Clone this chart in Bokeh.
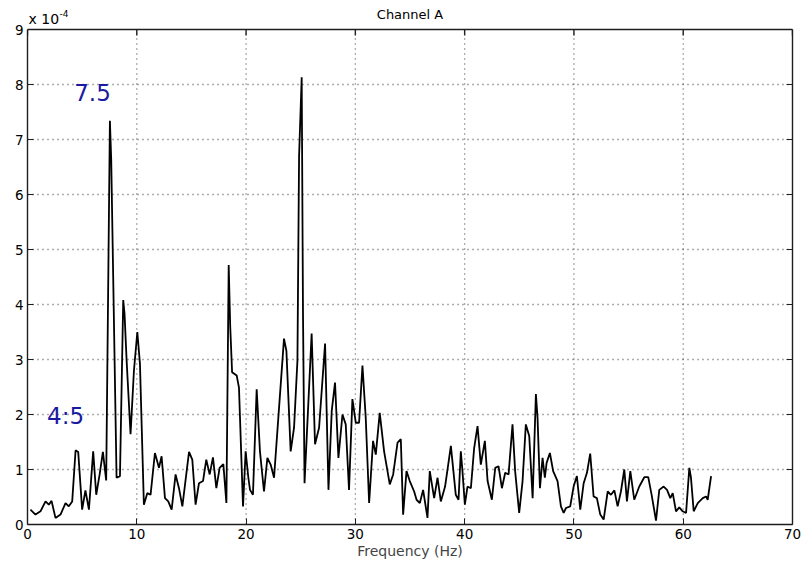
from bokeh.plotting import figure
from bokeh.models import Range1d, LinearAxis, Label, FixedTicker, Span
from bokeh.embed import file_html
from bokeh.resources import INLINE

# Frequency (Hz) and spectral amplitude (x 1e-4)
freq = [0.27, 0.73, 1.19, 1.65, 1.95, 2.2, 2.56, 3.02, 3.48, 3.78, 4.09, 4.4, 4.64, 5.0, 5.3,
        5.62, 6.01, 6.29, 6.6, 6.9, 7.2, 7.54, 7.66, 8.15, 8.46, 8.76, 8.88, 9.07, 9.43, 9.74,
        10.05, 10.29, 10.65, 10.96, 11.26, 11.66, 12.03, 12.27, 12.58, 12.88, 13.19, 13.55,
        13.86, 14.17, 14.78, 15.08, 15.38, 15.69, 16.06, 16.36, 16.67, 16.97, 17.28, 17.58,
        17.92, 18.2, 18.41, 18.55, 18.72, 19.14, 19.35, 19.72, 19.96, 20.21, 20.36, 20.63,
        20.97, 21.27, 21.64, 21.95, 22.25, 22.56, 23.47, 23.69, 24.08, 24.39, 24.7, 24.85,
        25.09, 25.21, 25.35, 26.0, 26.31, 26.68, 27.23, 27.54, 27.84, 28.14, 28.45, 28.82,
        29.12, 29.42, 29.73, 30.04, 30.34, 30.65, 30.95, 31.26, 31.62, 31.87, 32.23, 32.63,
        33.15, 33.46, 33.86, 34.16, 34.37, 34.68, 34.98, 35.38, 35.6, 35.9, 36.2, 36.6, 36.81,
        37.21, 37.52, 37.82, 38.21, 38.74, 39.19, 39.44, 39.65, 39.8, 40.02, 40.26, 40.57,
        40.87, 41.18, 41.48, 41.85, 42.1, 42.49, 42.8, 43.1, 43.41, 43.71, 44.02, 44.38,
        44.62, 44.99, 45.3, 45.6, 45.91, 46.22, 46.52, 46.67, 46.89, 47.13, 47.34, 47.5,
        47.8, 48.1, 48.5, 48.81, 49.06, 49.27, 49.66, 49.97, 50.27, 50.58, 50.89, 51.19,
        51.49, 51.8, 52.1, 52.41, 52.72, 53.09, 53.39, 53.7, 54.0, 54.3, 54.61, 54.85, 55.16,
        55.52, 55.98, 56.44, 56.8, 57.11, 57.51, 57.81, 58.21, 58.52, 58.82, 59.04, 59.34,
        59.64, 59.95, 60.26, 60.56, 60.71, 60.96, 61.33, 61.79, 62.09, 62.24, 62.55]
amp_e4 = [0.27, 0.18, 0.24, 0.42, 0.36, 0.43, 0.12, 0.18, 0.39, 0.33, 0.42, 1.35, 1.32, 0.27, 0.62,
          0.27, 1.33, 0.54, 0.91, 1.32, 0.8, 7.34, 6.64, 0.85, 0.88, 4.08, 3.83, 2.98, 1.64, 2.8,
          3.5, 2.92, 0.36, 0.57, 0.54, 1.3, 1.03, 1.24, 0.48, 0.42, 0.27, 0.91,
          0.66, 0.33, 1.32, 1.18, 0.36, 0.75, 0.79, 1.18, 0.91, 1.22, 0.66, 1.03,
          1.1, 0.39, 4.72, 3.6, 2.77, 2.71, 2.49, 0.33, 1.33, 0.85, 0.63, 0.54,
          2.46, 1.33, 0.6, 1.21, 1.09, 0.85, 3.38, 3.16, 1.33, 1.76, 2.98, 6.7,
          8.13, 3.8, 0.75, 3.47, 1.46, 1.76, 3.29, 0.63, 2.07, 2.58, 1.21, 2.0,
          1.82, 0.63, 2.28, 1.85, 1.85, 2.89, 1.94, 0.39, 1.52, 1.27, 2.03, 1.33,
          0.73, 0.91, 1.49, 1.55, 0.18, 0.97, 0.79, 0.6, 0.45, 0.39, 0.63, 0.12, 0.97,
          0.48, 0.85, 0.42, 0.69, 1.43, 0.54, 0.45, 1.33, 0.97, 0.36, 0.69, 0.66,
          1.39, 1.79, 1.09, 1.52, 0.79, 0.45, 1.03, 1.06, 0.66, 0.94, 0.91, 1.82,
          0.97, 0.21, 0.79, 1.82, 1.61, 0.48, 2.37, 1.94, 0.66, 1.21, 0.85, 1.12,
          1.3, 0.97, 0.79, 0.33, 0.21, 0.3, 0.33, 0.69, 0.88, 0.27, 0.75, 0.94,
          1.29, 0.51, 0.48, 0.18, 0.09, 0.6, 0.54, 0.62, 0.33, 0.6, 1.0, 0.42, 0.97,
          0.45, 0.69, 0.86, 0.86, 0.54, 0.07, 0.63, 0.69, 0.63, 0.48, 0.57, 0.24,
          0.31, 0.24, 0.21, 1.03, 0.85, 0.24, 0.39, 0.48, 0.51, 0.45, 0.88]

x_ticks = [0, 10, 20, 30, 40, 50, 60, 70]
y_ticks = [0, 1, 2, 3, 4, 5, 6, 7, 8, 9]
title_text = "Channel A"
x_label = "Frequency (Hz)"
exp_base = "x 10"
exp_power = "-4"
peak_labels = ["7.5", "4:5"]
peak_label_x = [5.95, 3.48]
peak_label_y = [7.86, 1.97]

FONT = "DejaVu Sans"
INK = "#1e1e1e"

W, H = 805, 570
BOTTOM = 46          # bottom border (px)
TOP_GAP = 29         # space above the axes box (px), kept inside the frame for the texts
frame_h = H - BOTTOM
y_top_val = y_ticks[-1]
y_max = y_top_val * frame_h / (frame_h - TOP_GAP)
px_to_y = y_max / frame_h

p = figure(width=W, height=H, output_backend="svg", toolbar_location=None,
           x_range=Range1d(x_ticks[0], x_ticks[-1]), y_range=Range1d(y_ticks[0], y_max),
           min_border_left=27, min_border_right=13, min_border_top=0, min_border_bottom=BOTTOM)
p.title.visible = False
p.background_fill_color = "white"
p.border_fill_color = "white"
p.outline_line_color = None

for ax, ticks in ((p.xaxis[0], x_ticks), (p.yaxis[0], y_ticks)):
    ax.ticker = FixedTicker(ticks=ticks)
    ax.major_tick_in = 6
    ax.major_tick_out = 0
    ax.minor_tick_line_color = None
    ax.axis_line_color = INK
    ax.axis_line_width = 1.4
    ax.major_tick_line_color = INK
    ax.major_label_text_font = FONT
    ax.major_label_text_font_size = "13.5px"
    ax.major_label_text_color = "black"
    ax.major_label_standoff = 4
p.yaxis.bounds = (y_ticks[0], y_top_val)

p.xaxis.axis_label = x_label
p.xaxis.axis_label_text_font = FONT
p.xaxis.axis_label_text_font_size = "14px"
p.xaxis.axis_label_text_font_style = "normal"
p.xaxis.axis_label_standoff = 1

# right side of the box with inward ticks
right = LinearAxis(ticker=FixedTicker(ticks=y_ticks), bounds=(y_ticks[0], y_top_val),
                   major_tick_in=6, major_tick_out=0, minor_tick_line_color=None,
                   major_label_text_font_size="1px", major_label_text_color=None,
                   axis_line_color=INK, axis_line_width=1.4, major_tick_line_color=INK,
                   major_label_standoff=0)
p.add_layout(right, "right")

# top side of the box with inward ticks
p.add_layout(Span(location=y_top_val, dimension="width", line_color=INK, line_width=1.4))
p.segment(x0=x_ticks, y0=[y_top_val] * len(x_ticks), x1=x_ticks,
          y1=[y_top_val - 6 * px_to_y] * len(x_ticks), line_color=INK, line_width=1.4)

# dotted grid
p.xgrid.visible = False
p.segment(x0=x_ticks[1:-1], y0=[y_ticks[0]] * (len(x_ticks) - 2), x1=x_ticks[1:-1],
          y1=[y_top_val] * (len(x_ticks) - 2), line_color="#333333", line_dash="1 4",
          line_width=1.3, line_alpha=0.8)
g = p.ygrid[0]
g.ticker = FixedTicker(ticks=y_ticks[1:-1])
g.grid_line_color = "#333333"
g.grid_line_dash = "1 4"
g.grid_line_width = 1.3
g.grid_line_alpha = 0.8

p.line(freq, amp_e4, line_color="black", line_width=1.8)

for t, lx, ly in zip(peak_labels, peak_label_x, peak_label_y):
    p.add_layout(Label(x=lx, y=ly, text=t, text_align="center", text_baseline="middle",
                       text_font=FONT, text_font_size="23px", text_color="#1a1aa0"))

p.add_layout(Label(x=(x_ticks[0] + x_ticks[-1]) / 2, y=y_top_val, y_offset=15, text=title_text,
                   text_align="center", text_baseline="middle", text_font=FONT,
                   text_font_size="13px", text_color="black"))
p.add_layout(Label(x=x_ticks[0], y=y_top_val, x_offset=1, y_offset=11, text=exp_base,
                   text_align="left", text_baseline="middle", text_font=FONT,
                   text_font_size="14px", text_color="black"))
p.add_layout(Label(x=x_ticks[0], y=y_top_val, x_offset=32, y_offset=16, text=exp_power,
                   text_align="left", text_baseline="middle", text_font=FONT,
                   text_font_size="9px", text_color="black"))

open("out.html", "w").write(file_html(p, INLINE))
